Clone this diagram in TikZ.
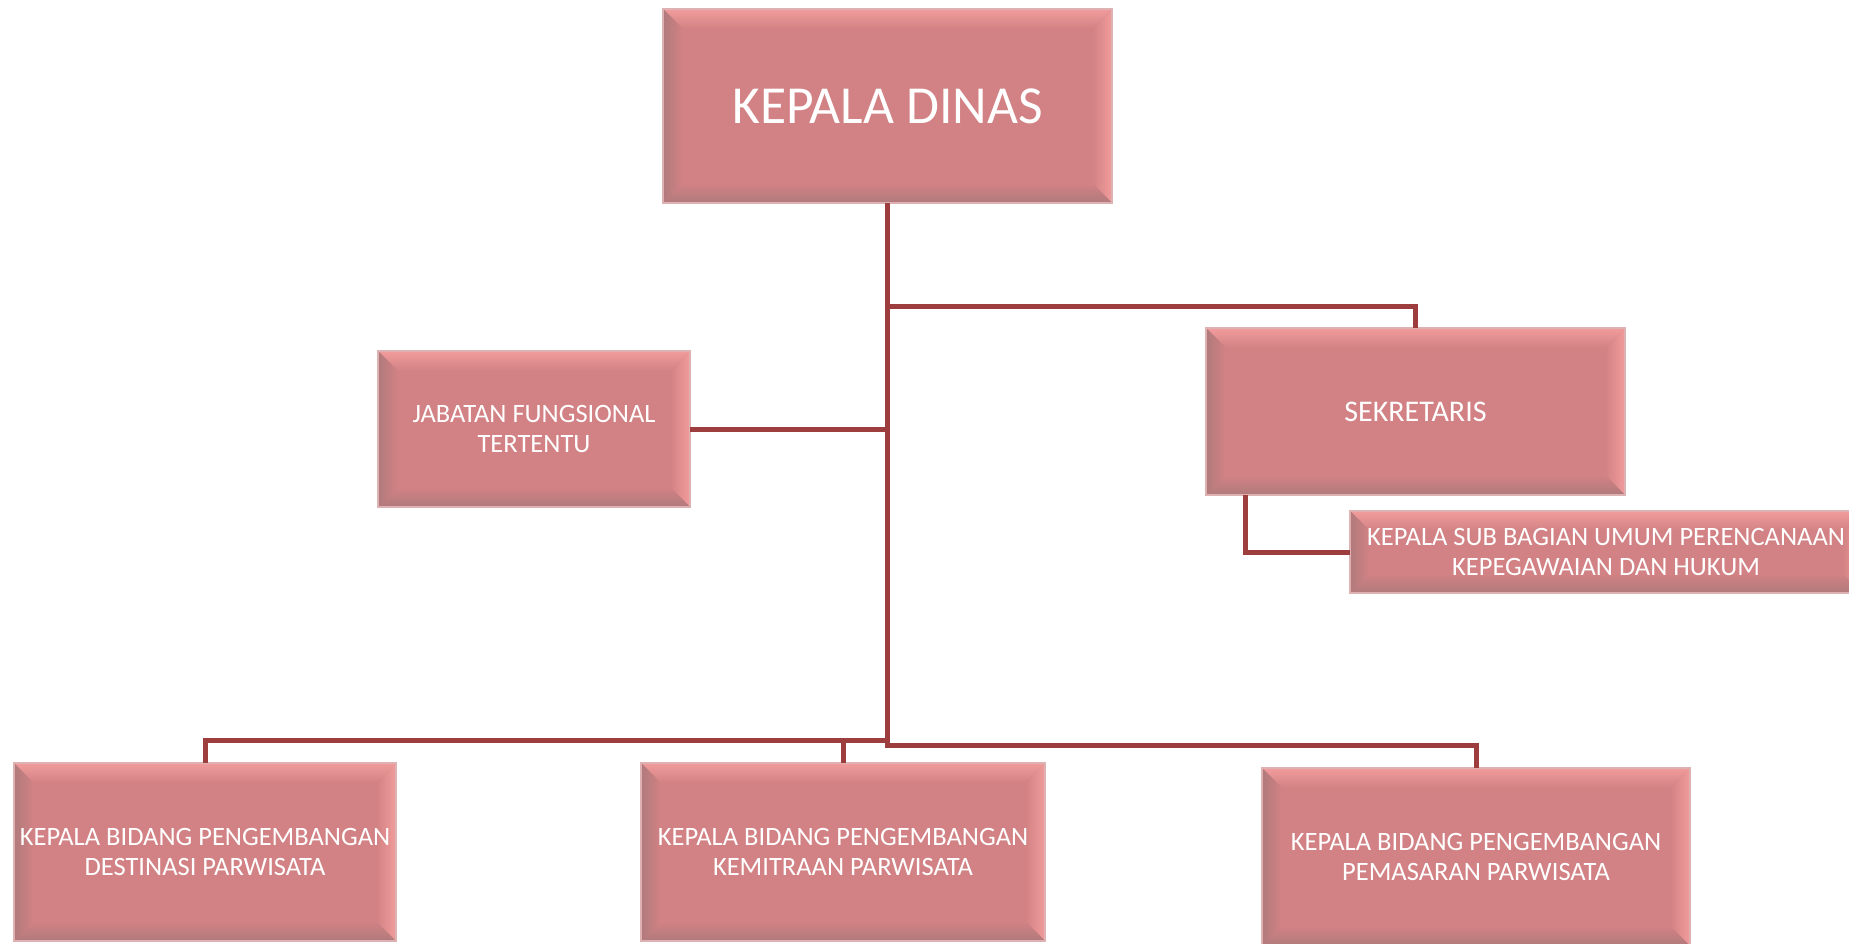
\documentclass[tikz,border=0pt]{standalone}
\usepackage{fontspec}
\setmainfont{Carlito}
\definecolor{boxfill}{RGB}{210,130,132}
\definecolor{bvlight}{RGB}{242,156,156}
\definecolor{bvdark}{RGB}{176,122,124}
\definecolor{boxedge}{RGB}{222,178,178}
\definecolor{linecol}{RGB}{158,61,61}
\pgfdeclarelayer{bg}
\pgfsetlayers{bg,main}
\newcommand\bvw{20pt}
\newcommand\bevelbox[1]{%
  \fill[boxfill] (#1.north west) rectangle (#1.south east);
  \shade[top color=bvlight, bottom color=boxfill] (#1.north west) -- (#1.north east) -- ([shift={(-\bvw,-\bvw)}]#1.north east) -- ([shift={(\bvw,-\bvw)}]#1.north west) -- cycle;
  \shade[left color=boxfill, right color=bvlight] (#1.north east) -- (#1.south east) -- ([shift={(-\bvw,\bvw)}]#1.south east) -- ([shift={(-\bvw,-\bvw)}]#1.north east) -- cycle;
  \shade[top color=boxfill, bottom color=bvdark] (#1.south west) -- (#1.south east) -- ([shift={(-\bvw,\bvw)}]#1.south east) -- ([shift={(\bvw,\bvw)}]#1.south west) -- cycle;
  \shade[left color=bvdark, right color=boxfill] (#1.north west) -- (#1.south west) -- ([shift={(\bvw,\bvw)}]#1.south west) -- ([shift={(\bvw,-\bvw)}]#1.north west) -- cycle;
  \draw[boxedge, line width=1.5pt] (#1.north west) rectangle (#1.south east);
}
\tikzset{
  unit/.style={text=white, inner sep=0pt, align=center, font=\fontsize{26.5}{30}\selectfont},
  conn/.style={draw=linecol, line width=5pt, line join=miter}
}
\begin{document}
\begin{tikzpicture}[x=1pt, y=-1pt]
\useasboundingbox (0,0) rectangle (1849,944);
\node[unit, minimum width=449pt, minimum height=194pt, font=\fontsize{53.5}{60}\selectfont] (kd) at (887.5,106) {KEPALA DINAS};
\node[unit, minimum width=312pt, minimum height=156pt] (jab) at (534,429) {JABATAN FUNGSIONAL\\TERTENTU};
\node[unit, minimum width=419pt, minimum height=167pt, font=\fontsize{30}{34}\selectfont] (sek) at (1415.5,411.5) {SEKRETARIS};
\node[unit, minimum width=512pt, minimum height=82pt] (sub) at (1606,552) {KEPALA SUB BAGIAN UMUM PERENCANAAN\\KEPEGAWAIAN DAN HUKUM};
\node[unit, minimum width=382pt, minimum height=178pt] (bl) at (205,852) {KEPALA BIDANG PENGEMBANGAN\\DESTINASI PARWISATA};
\node[unit, minimum width=404pt, minimum height=178pt] (bm) at (843,852) {KEPALA BIDANG PENGEMBANGAN\\KEMITRAAN PARWISATA};
\node[unit, minimum width=428pt, minimum height=178pt] (br) at (1476,857) {KEPALA BIDANG PENGEMBANGAN\\PEMASARAN PARWISATA};
\begin{pgfonlayer}{bg}
  \fill[white] (0,0) rectangle (1849,944);
  \bevelbox{kd}
  \bevelbox{jab}
  \bevelbox{sek}
  \bevelbox{sub}
  \bevelbox{bl}
  \bevelbox{bm}
  \bevelbox{br}
\end{pgfonlayer}
\coordinate (js) at (887.5,306);
\coordinate (jl) at (887.5,740);
\coordinate (jr) at (887.5,745);
\draw[conn] (kd.south) -- (jr) -| (br.north);
\draw[conn] (js) -| (sek.north);
\draw[conn] (jab.east) -- (jab.east -| kd.south);
\draw[conn] (jl) -| (bl.north);
\draw[conn] (bm.north) -- (bm.north |- jl);
\draw[conn] ([xshift=40pt]sek.south west) |- (sub.west);
\end{tikzpicture}
\end{document}
